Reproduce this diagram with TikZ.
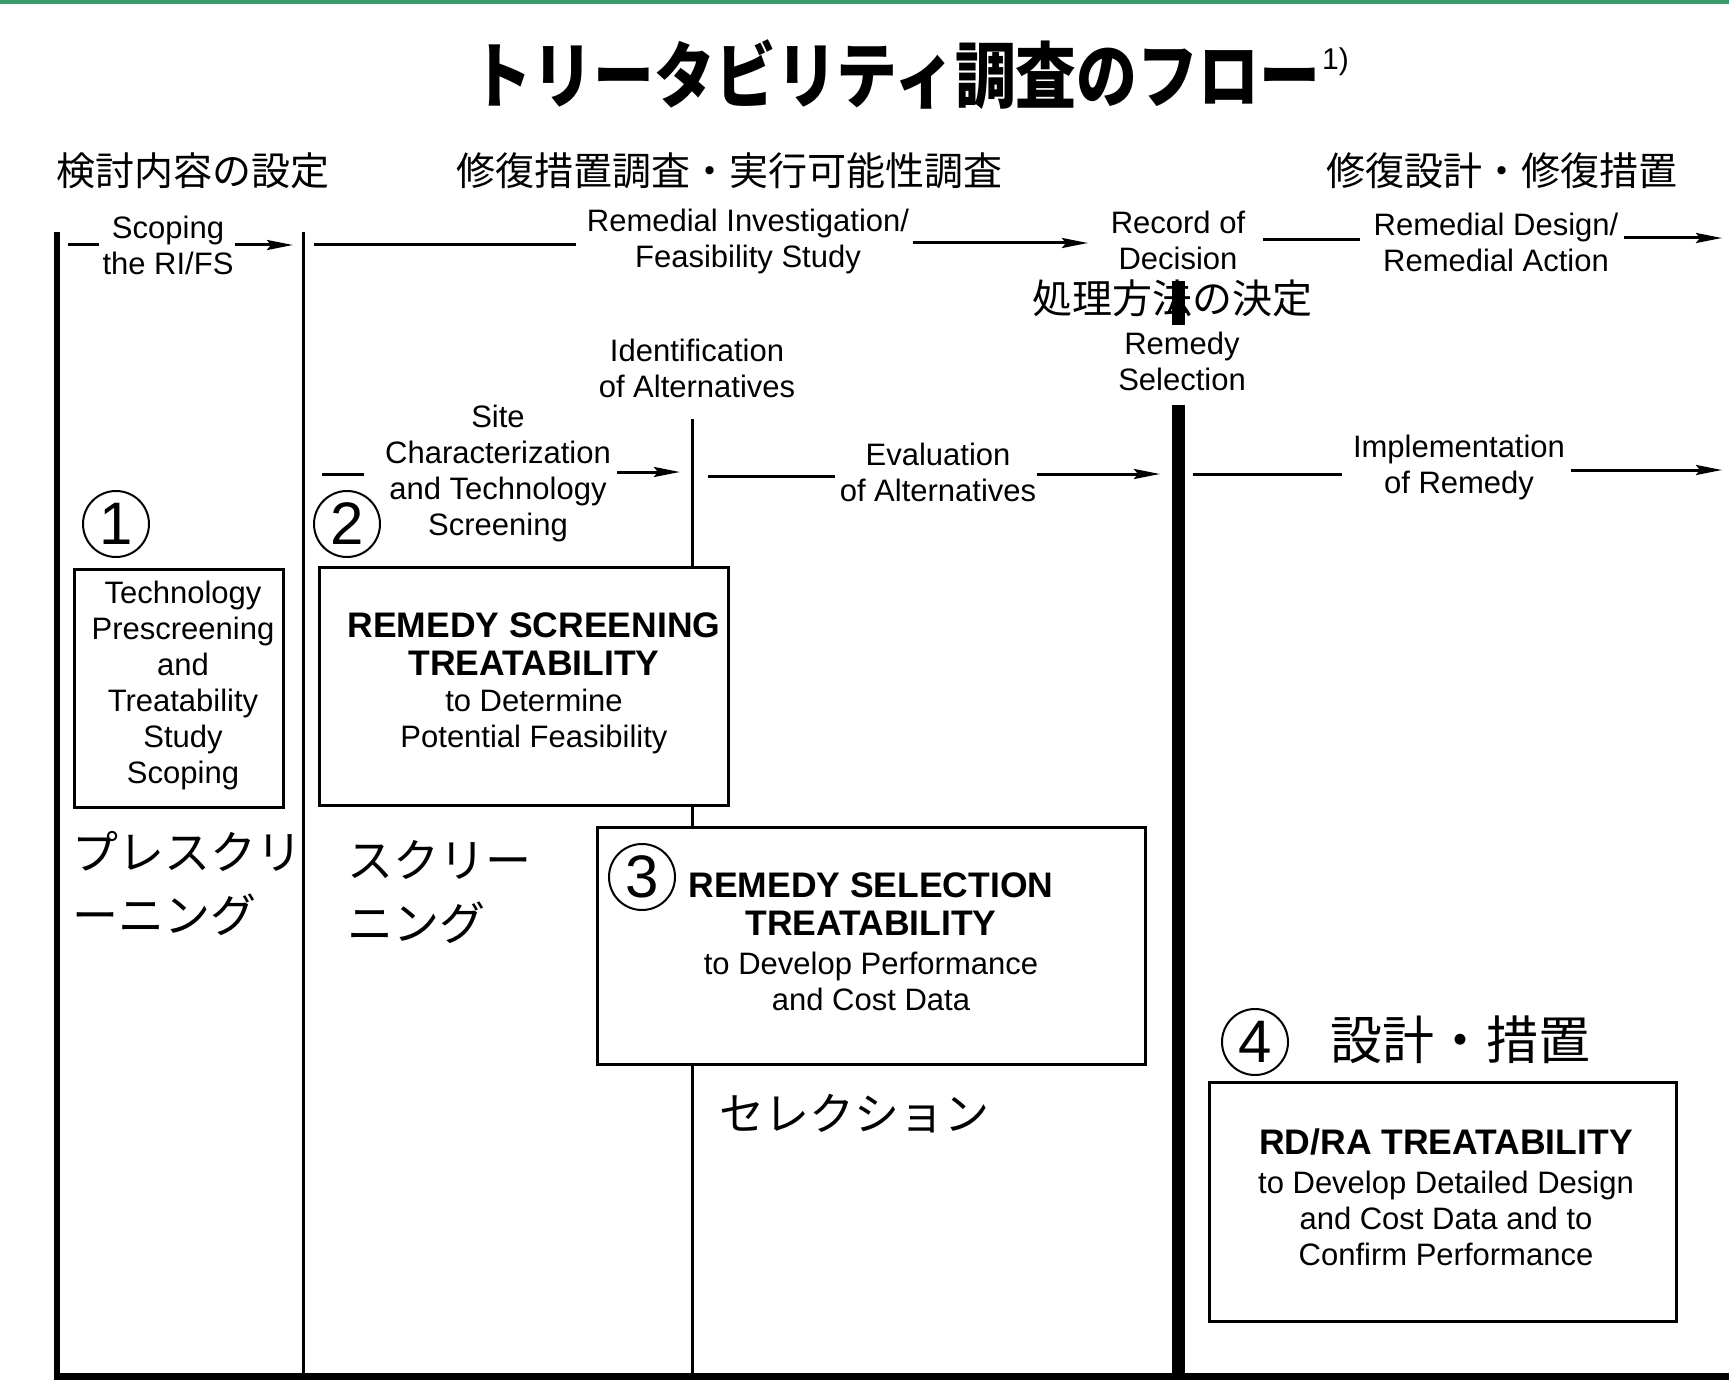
\documentclass[tikz,border=0pt]{standalone}
\usepackage{fontspec}
\setmainfont{Liberation Sans}
\newfontfamily\cjk{Noto Sans CJK JP}
\usetikzlibrary{arrows.meta}
\definecolor{topgreen}{RGB}{58,155,106}
\tikzset{
  en/.style={font=\fontsize{31}{36}\selectfont, align=center, inner sep=0pt},
  enb/.style={font=\bfseries\fontsize{35.5}{38}\selectfont, align=center, inner sep=0pt},
  jp/.style={font=\cjk\fontsize{39}{48}\selectfont, inner sep=0pt},
  jpbig/.style={font=\cjk\fontsize{46}{63}\selectfont, inner sep=0pt, align=left},
  tbox/.style={draw, line width=3pt, fill=white, inner sep=0pt},
  flow/.style={line width=3pt},
  arr/.style={line width=3pt, -{Stealth[length=26pt,width=10pt,inset=4pt]}},
  num/.style={circle, draw, line width=2pt, minimum size=66pt, inner sep=0pt, font=\fontsize{60}{60}\selectfont},
}
\begin{document}
\begin{tikzpicture}[x=1pt,y=-1pt]
\useasboundingbox (0,0) rectangle (1729,1388);
\fill[white] (0,0) rectangle (1729,1388);
\fill[topgreen] (0,0) rectangle (1729,4);

% title
\node[font=\cjk\bfseries\fontsize{72}{72}\selectfont, inner sep=0pt, xscale=0.845] (title) at (896,75) {トリータビリティ調査のフロー};
\node[font=\fontsize{30}{30}\selectfont, inner sep=0pt, anchor=west] (ref) at (1322,62) {1)};

% headings
\node[jp] (h1) at (193,171) {検討内容の設定};
\node[jp] (h2) at (729,171) {修復措置調査・実行可能性調査};
\node[jp] (h3) at (1502,171) {修復設計・修復措置};

% vertical lines
\coordinate (v1t) at (57,232);
\coordinate (v1b) at (57,1379);
\coordinate (v2t) at (303,232);
\coordinate (v2b) at (303,1376);
\coordinate (v3t) at (692,419);
\coordinate (v3b) at (692,1376);
\coordinate (v4a) at (1178,281);
\coordinate (v4b) at (1178,325);
\coordinate (v4c) at (1178,405);
\coordinate (v4d) at (1178,1376);
\coordinate (hbl) at (54,1376);
\coordinate (hbr) at (1729,1376);

\draw[line width=6pt] (v1t) -- (v1b);
\draw[line width=3pt] (v2t) -- (v2b);
\draw[line width=3pt] (v3t) -- (v3b);
\draw[line width=7pt] (hbl) -- (hbr);

% row 1 labels
\node[en] (scope) at (168,245) {Scoping\\the RI/FS};
\node[en] (rifs) at (748,241) {Remedial Investigation/\\Feasibility Study};
\node[en] (rod) at (1178,240) {Record of\\Decision};
\node[en] (rdra) at (1496,242) {Remedial Design/\\Remedial Action};
\node[jp, font=\cjk\fontsize{40}{48}\selectfont] (kettei) at (1172,298) {処理方法の決定};
\node[en] (rsel) at (1182,361) {Remedy\\Selection};
\node[en] (ident) at (697,368) {Identification\\of Alternatives};

\draw[line width=13pt] (v4a) -- (v4b);
\draw[line width=13pt] (v4c) -- (v4d);

% row 1 connectors
\coordinate (a1) at (68,245); \coordinate (a2) at (99,245);
\coordinate (a3) at (235,245); \coordinate (a4) at (293,245);
\coordinate (b1) at (314,245); \coordinate (b2) at (576,245);
\coordinate (b3) at (913,243); \coordinate (b4) at (1088,243);
\coordinate (c1) at (1263,240); \coordinate (c2) at (1360,240);
\coordinate (c3) at (1624,238); \coordinate (c4) at (1722,238);
\draw[flow] (a1) -- (a2);
\draw[arr] (a3) -- (a4);
\draw[flow] (b1) -- (b2);
\draw[arr] (b3) -- (b4);
\draw[flow] (c1) -- (c2);
\draw[arr] (c3) -- (c4);

% row 2 labels
\node[en] (site) at (498,473) {Site\\Characterization\\and Technology\\Screening};
\node[en] (eval) at (938,472) {Evaluation\\of Alternatives};
\node[en] (impl) at (1459,467) {Implementation\\of Remedy};

% row 2 connectors
\coordinate (d1) at (322,474); \coordinate (d2) at (364,474);
\coordinate (d3) at (617,472); \coordinate (d4) at (680,472);
\coordinate (e1) at (708,476); \coordinate (e2) at (835,476);
\coordinate (e3) at (1037,474); \coordinate (e4) at (1160,474);
\coordinate (f1) at (1193,474); \coordinate (f2) at (1342,474);
\coordinate (f3) at (1571,470); \coordinate (f4) at (1722,470);
\draw[flow] (d1) -- (d2);
\draw[arr] (d3) -- (d4);
\draw[flow] (e1) -- (e2);
\draw[arr] (e3) -- (e4);
\draw[flow] (f1) -- (f2);
\draw[arr] (f3) -- (f4);

% circled numbers
\node[num] (n1) at (116,524) {1};
\node[num] (n2) at (347,524) {2};

% box 1
\node[tbox, minimum width=209pt, minimum height=238pt] (box1) at (178.5,688) {};
\node[en] (t1) at (183,685) {Technology\\Prescreening\\and\\Treatability\\Study\\Scoping};

% box 2
\node[tbox, minimum width=409pt, minimum height=238pt] (box2) at (523.5,686) {};
\node[enb] (t2a) at (534,644) {REMEDY SCREENING\\TREATABILITY};
\node[en] (t2b) at (534,721) {to Determine\\Potential Feasibility};

% box 3
\node[tbox, minimum width=548pt, minimum height=237pt] (box3) at (871,945.5) {};
\node[num] (n3) at (642,877) {3};
\node[enb] (t3a) at (871,904) {REMEDY SELECTION\\TREATABILITY};
\node[en] (t3b) at (871,981) {to Develop Performance\\and Cost Data};

% box 4
\node[tbox, minimum width=467pt, minimum height=239pt] (box4) at (1442.5,1201.5) {};
\node[num] (n4) at (1255,1042) {4};
\node[font=\cjk\fontsize{52}{52}\selectfont, inner sep=0pt] (sekkei) at (1460,1040) {設計・措置};
\node[enb] (t4a) at (1446,1142) {RD/RA TREATABILITY};
\node[en] (t4b) at (1446,1218) {to Develop Detailed Design\\and Cost Data and to\\Confirm Performance};

% japanese stage labels
\node[jpbig, anchor=west] (pre) at (72,883) {プレスクリ\\ーニング};
\node[jpbig, anchor=west] (scr) at (347,892) {スクリー\\ニング};
\node[font=\cjk\fontsize{45}{45}\selectfont, inner sep=0pt] (sel) at (854,1114) {セレクション};
\end{tikzpicture}
\end{document}
